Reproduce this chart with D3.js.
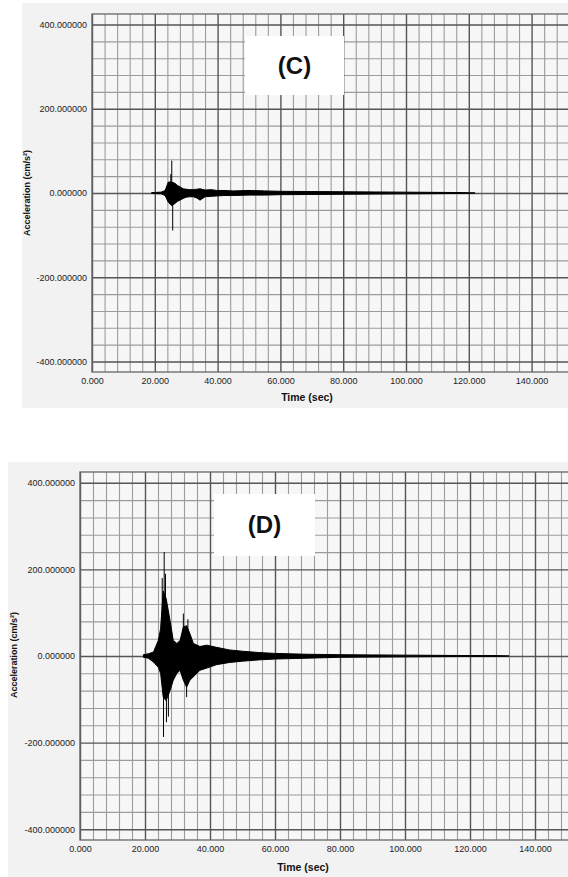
<!DOCTYPE html>
<html>
<head>
<meta charset="utf-8">
<script src="https://cdn.jsdelivr.net/npm/d3@7"></script>
<style>
  body { margin: 0; background: #fff; }
  svg { display: block; font-family: "Liberation Sans", Arial, sans-serif; }
</style>
</head>
<body>
<div id="chart"></div>
<script>
// envelope of the accelerogram (time in s, acc in cm/s²)
const cTime  = [19, 22, 23.3, 24.3, 25.4, 26.4, 27.2, 28, 29, 30, 31, 32.3, 33.4, 34.4, 36, 38, 39.7, 42, 45, 50, 55, 60, 70, 80, 90, 100, 110, 118, 122];
const cUpper = [1, 2, 6, 26, 26, 23, 18, 15, 10, 9, 8, 8, 9, 10, 7, 8, 6, 6, 5, 6, 5, 4, 3.5, 3, 2.5, 2, 1.5, 1, 0];
const cLower = [-1, -2, -6, -22, -30, -25, -20, -17, -13, -10, -9, -9, -12, -17, -9, -8, -7, -6, -6, -5, -5, -4, -3.5, -3, -2.5, -2, -1.5, -1, 0];
const cSpikeTime  = [25.1, 25.4, 25.7];
const cSpikeValue = [45, 77, -89];

const dTime  = [19.5, 21, 22.6, 24.1, 24.8, 25.6, 26.5, 27.7, 28.7, 29.8, 30.8, 31.8, 32.8, 33.8, 34.9, 36.9, 39, 42, 46, 50, 55, 60, 70, 80, 90, 100, 110, 120, 128, 132];
const dUpper = [3, 5, 9, 36, 63, 150, 133, 82, 36, 29, 36, 67, 70, 52, 29, 22, 25, 20, 14, 11, 8, 6, 4, 3, 2.5, 2, 1.5, 1, 1, 0];
const dLower = [-3, -5, -14, -26, -40, -95, -103, -80, -56, -40, -33, -56, -72, -56, -48, -33, -28, -20, -15, -12, -9, -7, -5, -3, -2.5, -2, -1.5, -1, -1, 0];
const dSpikeTime  = [25.3, 25.7, 25.9, 26.3, 26.6, 27.2, 31.8, 32.8, 33.2];
const dSpikeValue = [180, -187, 240, 190, -153, -140, 98, -95, 85];

const yTickLabels = ["400.000000", "200.000000", "0.000000", "-200.000000", "-400.000000"];
const yTickValues = [400, 200, 0, -200, -400];
const xTickValues = [0, 20, 40, 60, 80, 100, 120, 140];

const W = 568, H = 877;

const svg = d3.select("#chart").append("svg")
  .attr("width", W)
  .attr("height", H);

function drawPanel(p, time, upper, lower, spikeTime, spikeValue) {
  const g = svg.append("g");

  g.append("rect")
    .attr("x", p.bx).attr("y", p.by)
    .attr("width", W - p.bx + 10).attr("height", p.bh)
    .attr("fill", "#f2f2f2");

  const x = d3.scaleLinear().domain([0, 160]).range([p.left, p.right]);
  const y = d3.scaleLinear().domain([-425, 425]).range([p.bottom, p.top]);

  g.append("rect")
    .attr("x", p.left).attr("y", p.top)
    .attr("width", p.right - p.left).attr("height", p.bottom - p.top)
    .attr("fill", "#f7f7f7");

  // minor grid
  g.append("g")
    .attr("transform", `translate(0,${p.bottom})`)
    .call(d3.axisBottom(x).tickValues(d3.range(4, 160, 4).filter(v => v % 20)).tickSize(-(p.bottom - p.top)).tickFormat(""))
    .call(a => a.select(".domain").remove())
    .call(a => a.selectAll("line").attr("stroke", "#9c9c9c").attr("stroke-width", 1.1));
  g.append("g")
    .attr("transform", `translate(${p.left},0)`)
    .call(d3.axisLeft(y).tickValues(d3.range(-400, 401, 40).filter(v => v % 200)).tickSize(-(p.right - p.left)).tickFormat(""))
    .call(a => a.select(".domain").remove())
    .call(a => a.selectAll("line").attr("stroke", "#9c9c9c").attr("stroke-width", 1.1));

  // major grid + labels
  g.append("g")
    .attr("transform", `translate(0,${p.bottom})`)
    .call(d3.axisBottom(x).tickValues(xTickValues).tickSize(-(p.bottom - p.top)).tickPadding(6).tickFormat(d3.format(".3f")))
    .call(a => a.select(".domain").remove())
    .call(a => a.selectAll("line").attr("stroke", "#555").attr("stroke-width", 1.4))
    .call(a => a.selectAll("text").attr("font-size", 9).attr("fill", "#222").attr("font-family", "Liberation Sans, Arial, sans-serif"));
  g.append("g")
    .attr("transform", `translate(${p.left},0)`)
    .call(d3.axisLeft(y).tickValues(yTickValues).tickSize(-(p.right - p.left)).tickPadding(5).tickFormat((d, i) => yTickLabels[i]))
    .call(a => a.select(".domain").remove())
    .call(a => a.selectAll("line").attr("stroke", "#555").attr("stroke-width", 1.4))
    .call(a => a.selectAll("text").attr("font-size", 9).attr("fill", "#222").attr("font-family", "Liberation Sans, Arial, sans-serif"));

  g.append("rect")
    .attr("x", p.left).attr("y", p.top)
    .attr("width", p.right - p.left).attr("height", p.bottom - p.top)
    .attr("fill", "none")
    .attr("stroke", "#666").attr("stroke-width", 1.3);

  // title box
  g.append("rect")
    .attr("x", p.tx).attr("y", p.ty).attr("width", p.tw).attr("height", p.th)
    .attr("fill", "#fff");
  g.append("text")
    .attr("x", p.tx + p.tw / 2).attr("y", p.ty + p.th / 2)
    .attr("dy", "0.35em")
    .attr("text-anchor", "middle")
    .attr("font-size", 24).attr("font-weight", "bold").attr("fill", "#111")
    .text(p.title);

  // signal
  const rows = time.map((t, i) => ({t, hi: upper[i], lo: lower[i]}));
  g.append("path")
    .datum(rows)
    .attr("d", d3.area().x(d => x(d.t)).y0(d => y(d.lo)).y1(d => y(d.hi)))
    .attr("fill", "#000")
    .attr("stroke", "#000").attr("stroke-width", 1);

  g.selectAll(".spike")
    .data(spikeTime.map((t, i) => ({t, v: spikeValue[i]})))
    .enter().append("line")
      .attr("class", "spike")
      .attr("x1", d => x(d.t)).attr("x2", d => x(d.t))
      .attr("y1", y(0)).attr("y2", d => y(d.v))
      .attr("stroke", "#000").attr("stroke-width", 1);

  // axis titles
  g.append("text")
    .attr("x", p.xtx).attr("y", p.xty)
    .attr("text-anchor", "middle")
    .attr("font-size", 10.5).attr("font-weight", "bold").attr("fill", "#111")
    .text("Time (sec)");
  g.append("text")
    .attr("transform", `translate(${p.ytx},${p.yty}) rotate(-90)`)
    .attr("text-anchor", "middle")
    .attr("dy", "0.35em")
    .attr("font-size", 9).attr("font-weight", "bold").attr("fill", "#111")
    .text("Acceleration (cm/s²)");
}

drawPanel({
  bx: 22, by: 3, bh: 405,
  left: 92, right: 92 + 160 * 3.14, top: 14, bottom: 372,
  tx: 245, ty: 36, tw: 99, th: 59, title: "(C)",
  xtx: 307, xty: 401, ytx: 27, yty: 193,
}, cTime, cUpper, cLower, cSpikeTime, cSpikeValue);

drawPanel({
  bx: 8, by: 462, bh: 415,
  left: 80, right: 80 + 160 * 3.25, top: 472, bottom: 840,
  tx: 214, ty: 494, tw: 101, th: 62, title: "(D)",
  xtx: 303, xty: 871, ytx: 14, yty: 655,
}, dTime, dUpper, dLower, dSpikeTime, dSpikeValue);
</script>
</body>
</html>
